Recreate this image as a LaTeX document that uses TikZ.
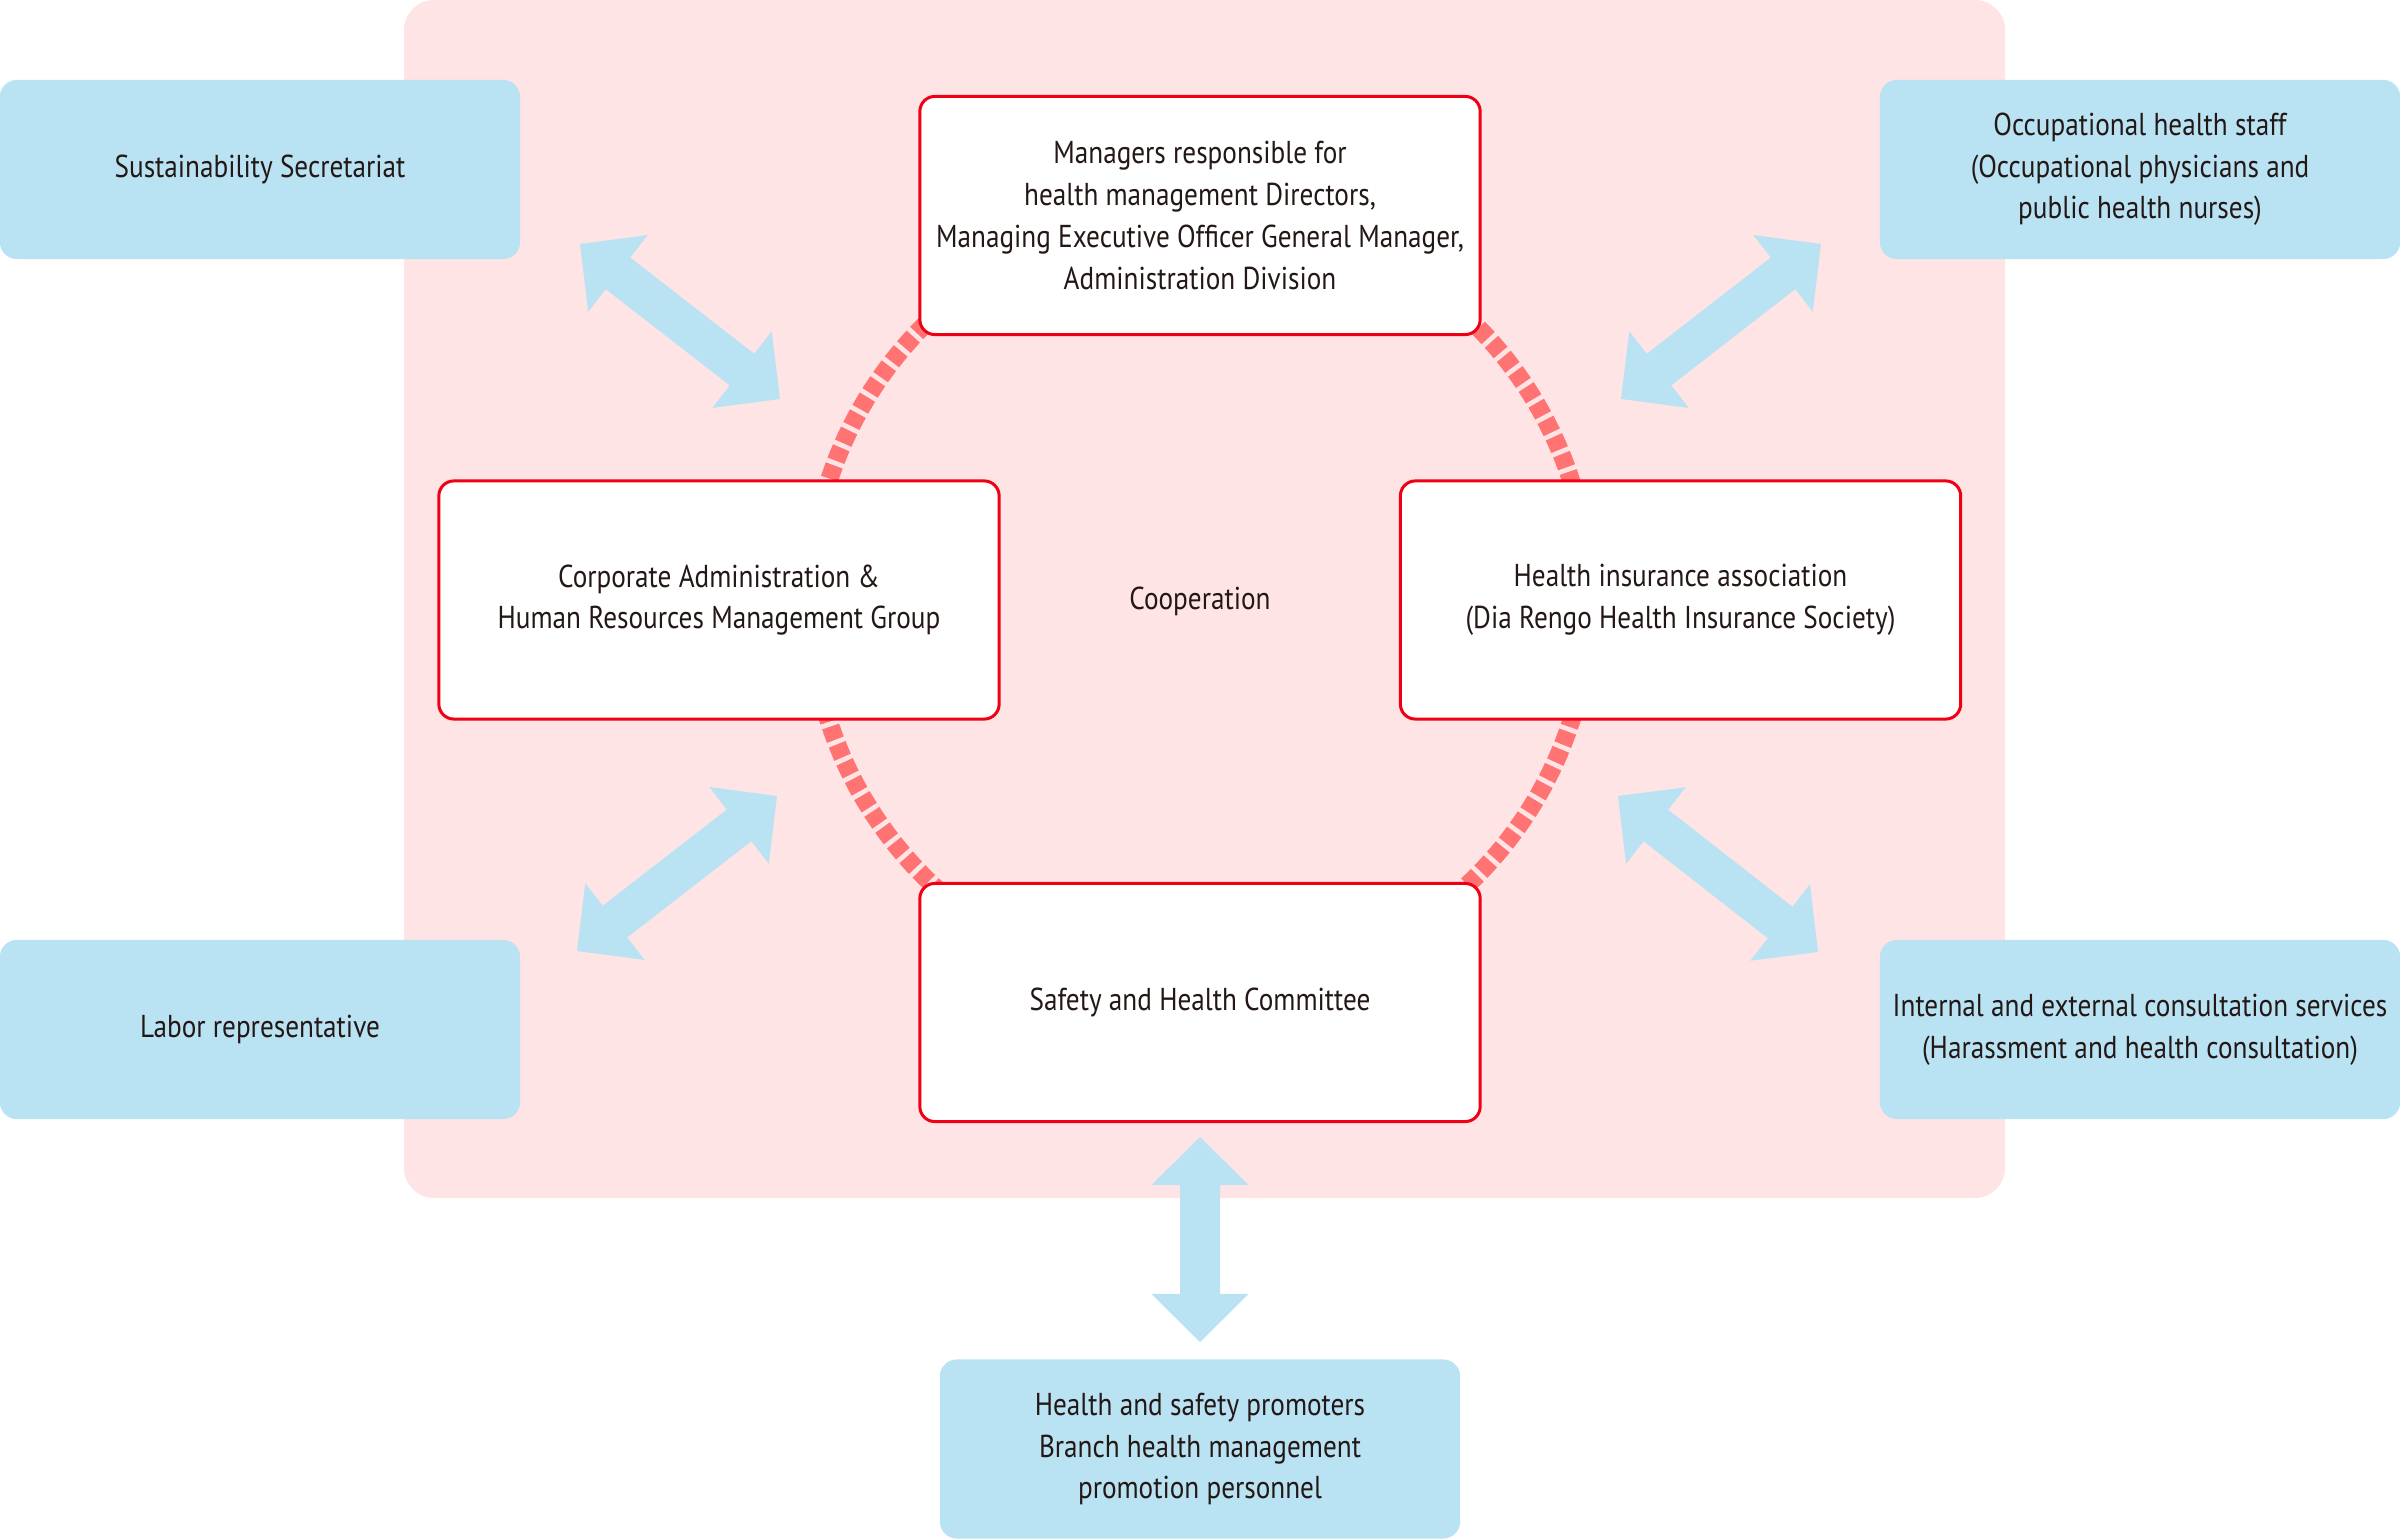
\documentclass[tikz,border=0pt]{standalone}
\usepackage{fontspec}
\setmainfont{PT Sans}[FakeStretch=0.86]
\usetikzlibrary{calc}
\definecolor{bgpink}{HTML}{FFE4E6}
\definecolor{boxblue}{HTML}{B9E2F3}
\definecolor{arrblue}{HTML}{B9E2F3}
\definecolor{boxred}{HTML}{F00014}
\definecolor{dashred}{HTML}{FF7373}
\definecolor{txt}{HTML}{231815}
\newcommand\blockdarrow[2]{%
  \path ($(#1)!0.48cm!(#2)$) coordinate (h1) ($(#2)!0.48cm!(#1)$) coordinate (h2);
  \fill[arrblue] (#1) -- ($(h1)!0.485cm!90:(#2)$) -- ($(h1)!0.2cm!90:(#2)$)
    -- ($(h2)!0.2cm!-90:(#1)$) -- ($(h2)!0.485cm!-90:(#1)$) -- (#2)
    -- ($(h2)!0.485cm!90:(#1)$) -- ($(h2)!0.2cm!90:(#1)$)
    -- ($(h1)!0.2cm!-90:(#2)$) -- ($(h1)!0.485cm!-90:(#2)$) -- cycle;}
\tikzset{
  lbl/.style={text=txt, align=center, font=\fontsize{9}{11.85}\selectfont},
  whitebox/.style={lbl, draw=boxred, line width=0.03cm, fill=white, rounded corners=0.15cm,
    minimum width=5.6cm, minimum height=2.38cm, inner sep=0pt},
  bluebox/.style={lbl, fill=boxblue, rounded corners=0.17cm,
    minimum width=5.2cm, minimum height=1.79cm, inner sep=0pt},
}
\begin{document}
\begin{tikzpicture}[x=0.01cm, y=-0.01cm]
\useasboundingbox (0,0) rectangle (2400,1540);
\fill[white] (0,0) rectangle (2400,1540);
% background panel
\fill[bgpink, rounded corners=0.3cm] (404,0) rectangle (2005,1198);
% cooperation ring
\draw[dashred, line width=0.18cm, dash pattern=on 0.14cm off 0.05cm] (1200,601) circle[radius=390];
\node[lbl] (coop) at (1200,601) {Cooperation};
% central boxes
\node[whitebox] (mgr) at (1200,215.5) {Managers responsible for\\ health management Directors,\\ Managing Executive Officer General Manager,\\ Administration Division};
\node[whitebox] (corp) at (719,600) {Corporate Administration \&\\ Human Resources Management Group};
\node[whitebox] (ins) at (1680.5,600) {Health insurance association\\ (Dia Rengo Health Insurance Society)};
\node[whitebox] (shc) at (1200,1002.5) {Safety and Health Committee};
% outer boxes
\node[bluebox] (sus) at (260,169.5) {Sustainability Secretariat};
\node[bluebox] (occ) at (2140,169.5) {Occupational health staff\\ (Occupational physicians and\\ public health nurses)};
\node[bluebox] (lab) at (260,1029.5) {Labor representative};
\node[bluebox] (cons) at (2140,1029.5) {Internal and external consultation services\\ (Harassment and health consultation)};
\node[bluebox] (prom) at (1200,1449) {Health and safety promoters\\ Branch health management\\ promotion personnel};
% arrow ends
\coordinate (susA) at (580,244);  \coordinate (corpA) at (780,399);
\coordinate (occA) at (1821,244); \coordinate (insA) at (1621,399);
\coordinate (labA) at (577,951);  \coordinate (corpB) at (777,796);
\coordinate (consA) at (1818,952); \coordinate (insB) at (1618,796);
\coordinate (promA) at (1200,1342); \coordinate (shcA) at (1200,1137);
\blockdarrow{susA}{corpA}
\blockdarrow{occA}{insA}
\blockdarrow{labA}{corpB}
\blockdarrow{consA}{insB}
\blockdarrow{promA}{shcA}
\end{tikzpicture}
\end{document}
